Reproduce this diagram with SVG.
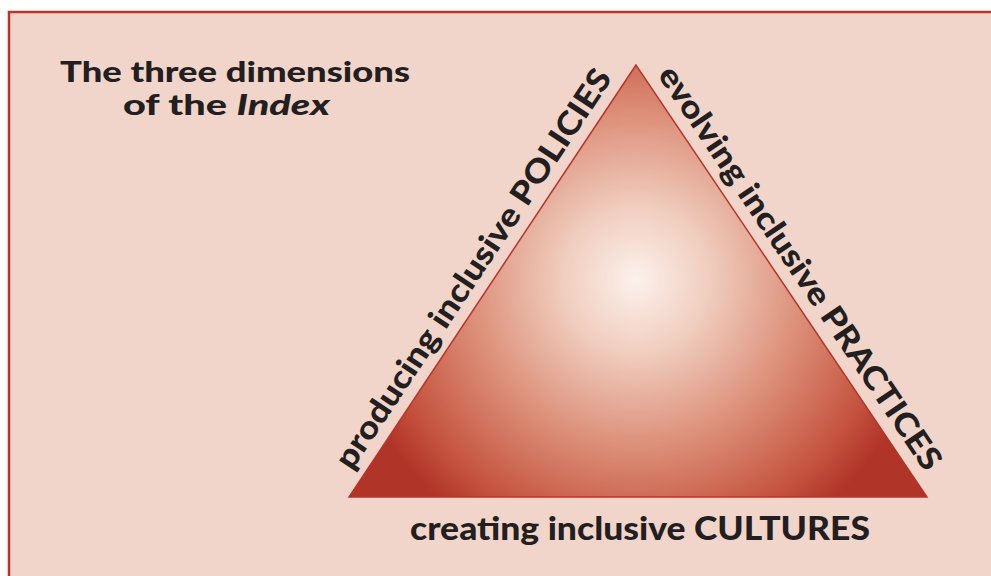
<svg xmlns="http://www.w3.org/2000/svg" width="991" height="576" viewBox="0 0 991 576">
  <style>
    .lbl { font-family: "Lato", "Open Sans", "Liberation Sans", sans-serif; font-weight: 900; fill: #231f20; }
  </style>
  <defs>
    <radialGradient id="glow" gradientUnits="userSpaceOnUse" cx="636" cy="280" r="295">
      <stop offset="0" stop-color="#fcf1ec"/>
      <stop offset="0.25" stop-color="#f0cdbf"/>
      <stop offset="0.55" stop-color="#dd927c"/>
      <stop offset="0.85" stop-color="#c65641"/>
      <stop offset="1" stop-color="#b13428"/>
    </radialGradient>
  </defs>
  <rect x="0" y="0" width="991" height="576" fill="#ffffff"/>
  <rect x="9" y="12" width="1000" height="600" fill="#f1d5ca" stroke="#b8342b" stroke-width="2.5"/>

  <g id="title">
    <text class="lbl" x="235" y="82" font-size="28" text-anchor="middle" textLength="350" lengthAdjust="spacingAndGlyphs">The three dimensions</text>
    <text class="lbl" x="226.5" y="115" font-size="28" text-anchor="middle" textLength="207" lengthAdjust="spacingAndGlyphs">of the <tspan font-style="italic">Index</tspan></text>
  </g>

  <g id="triangle">
    <polygon points="636,65 349,497 927,497" fill="url(#glow)" stroke="#b8342b" stroke-width="1.5" stroke-linejoin="miter"/>
  </g>

  <g id="label-policies">
    <text class="lbl" font-size="32" text-anchor="middle" textLength="472" lengthAdjust="spacingAndGlyphs" transform="translate(482.4,274.7) rotate(-56.4)">producing inclusive POLICIES</text>
  </g>

  <g id="label-practices">
    <text class="lbl" font-size="32" text-anchor="middle" textLength="480" lengthAdjust="spacingAndGlyphs" transform="translate(791.1,273.9) rotate(56)">evolving inclusive PRACTICES</text>
  </g>

  <g id="label-cultures">
    <text class="lbl" x="640" y="540" font-size="32" text-anchor="middle" textLength="460" lengthAdjust="spacingAndGlyphs">creating inclusive CULTURES</text>
  </g>
</svg>
